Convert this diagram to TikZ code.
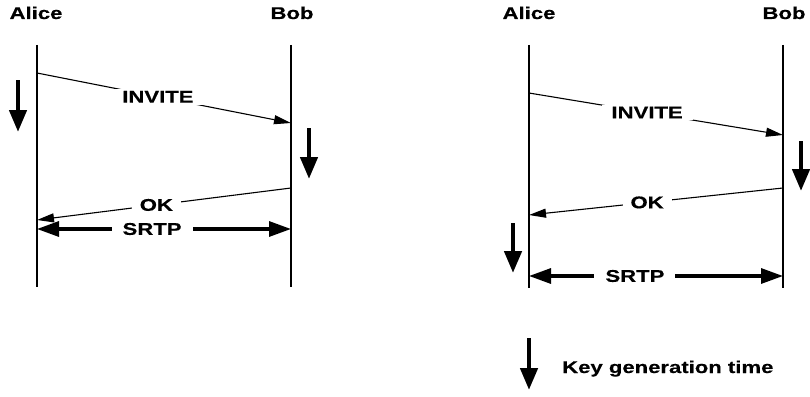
\documentclass[tikz,border=0pt]{standalone}
\usepackage{fontspec}
\newfontfamily\lbl[FakeStretch=1.3,FakeBold=0.4]{Liberation Sans}
\usetikzlibrary{arrows.meta}
\begin{document}
\begin{tikzpicture}[x=1pt,y=-1pt,
  lifeline/.style={line width=1.4pt},
  msg/.style={line width=1.1pt,-{Triangle[length=17pt,width=9pt]}},
  media/.style={line width=3.2pt,{Triangle[length=22pt,width=15pt]}-{Triangle[length=22pt,width=15pt]}},
  keyarrow/.style={line width=4.5pt,-{Triangle[length=22pt,width=17pt]}},
  txt/.style={font=\lbl\bfseries\fontsize{17}{20}\selectfont},
  party/.style={txt,anchor=base,inner sep=0pt},
  msglabel/.style={txt,fill=white,inner xsep=10pt,inner ysep=2pt},
]
\useasboundingbox (0,0) rectangle (810,396);

% ---- left flow: keys generated before the exchange ----
\node[party] (alice1) at (36,19) {Alice};
\node[party] (bob1) at (292,19) {Bob};
\coordinate (a1top) at (37,45);  \coordinate (a1bot) at (37,287);
\coordinate (b1top) at (291,45); \coordinate (b1bot) at (291,287);
\draw[lifeline] (a1top) -- (a1bot);
\draw[lifeline] (b1top) -- (b1bot);

\coordinate (inv1s) at (37,73);  \coordinate (inv1e) at (291,123);
\draw[msg] (inv1s) -- node[msglabel,pos=.476] (inv1lbl) {INVITE} (inv1e);
\coordinate (ok1s) at (291,188); \coordinate (ok1e) at (37,220);
\draw[msg] (ok1s) -- node[msglabel,pos=.53,inner xsep=8pt] (ok1lbl) {OK} (ok1e);
\coordinate (srtp1a) at (37,229); \coordinate (srtp1b) at (291,229);
\draw[media] (srtp1a) -- node[msglabel,pos=.453,inner xsep=11pt] (srtp1lbl) {SRTP} (srtp1b);

\coordinate (k1as) at (18,80);  \coordinate (k1ae) at (18,132);
\draw[keyarrow] (k1as) -- (k1ae);
\coordinate (k1bs) at (309,128); \coordinate (k1be) at (309,179);
\draw[keyarrow] (k1bs) -- (k1be);

% ---- right flow: Alice generates her key after the OK ----
\node[party] (alice2) at (529,19) {Alice};
\node[party] (bob2) at (784,19) {Bob};
\coordinate (a2top) at (529,45);  \coordinate (a2bot) at (529,288);
\coordinate (b2top) at (783,45);  \coordinate (b2bot) at (783,288);
\draw[lifeline] (a2top) -- (a2bot);
\draw[lifeline] (b2top) -- (b2bot);

\coordinate (inv2s) at (529,93);  \coordinate (inv2e) at (783,135);
\draw[msg] (inv2s) -- node[msglabel,pos=.465] (inv2lbl) {INVITE} (inv2e);
\coordinate (ok2s) at (783,188);  \coordinate (ok2e) at (529,215);
\draw[msg] (ok2s) -- node[msglabel,pos=.535,inner xsep=8pt] (ok2lbl) {OK} (ok2e);
\coordinate (srtp2a) at (529,276); \coordinate (srtp2b) at (783,276);
\draw[media] (srtp2a) -- node[msglabel,pos=.417,inner xsep=11pt] (srtp2lbl) {SRTP} (srtp2b);

\coordinate (k2bs) at (801,141); \coordinate (k2be) at (801,191);
\draw[keyarrow] (k2bs) -- (k2be);
\coordinate (k2as) at (513,223); \coordinate (k2ae) at (513,273);
\draw[keyarrow] (k2as) -- (k2ae);

% ---- legend ----
\coordinate (legs) at (529,338); \coordinate (lege) at (529,390);
\draw[keyarrow] (legs) -- (lege);
\node[txt,anchor=base west,inner sep=0pt] (legtxt) at (562,373) {Key generation time};
\end{tikzpicture}
\end{document}
